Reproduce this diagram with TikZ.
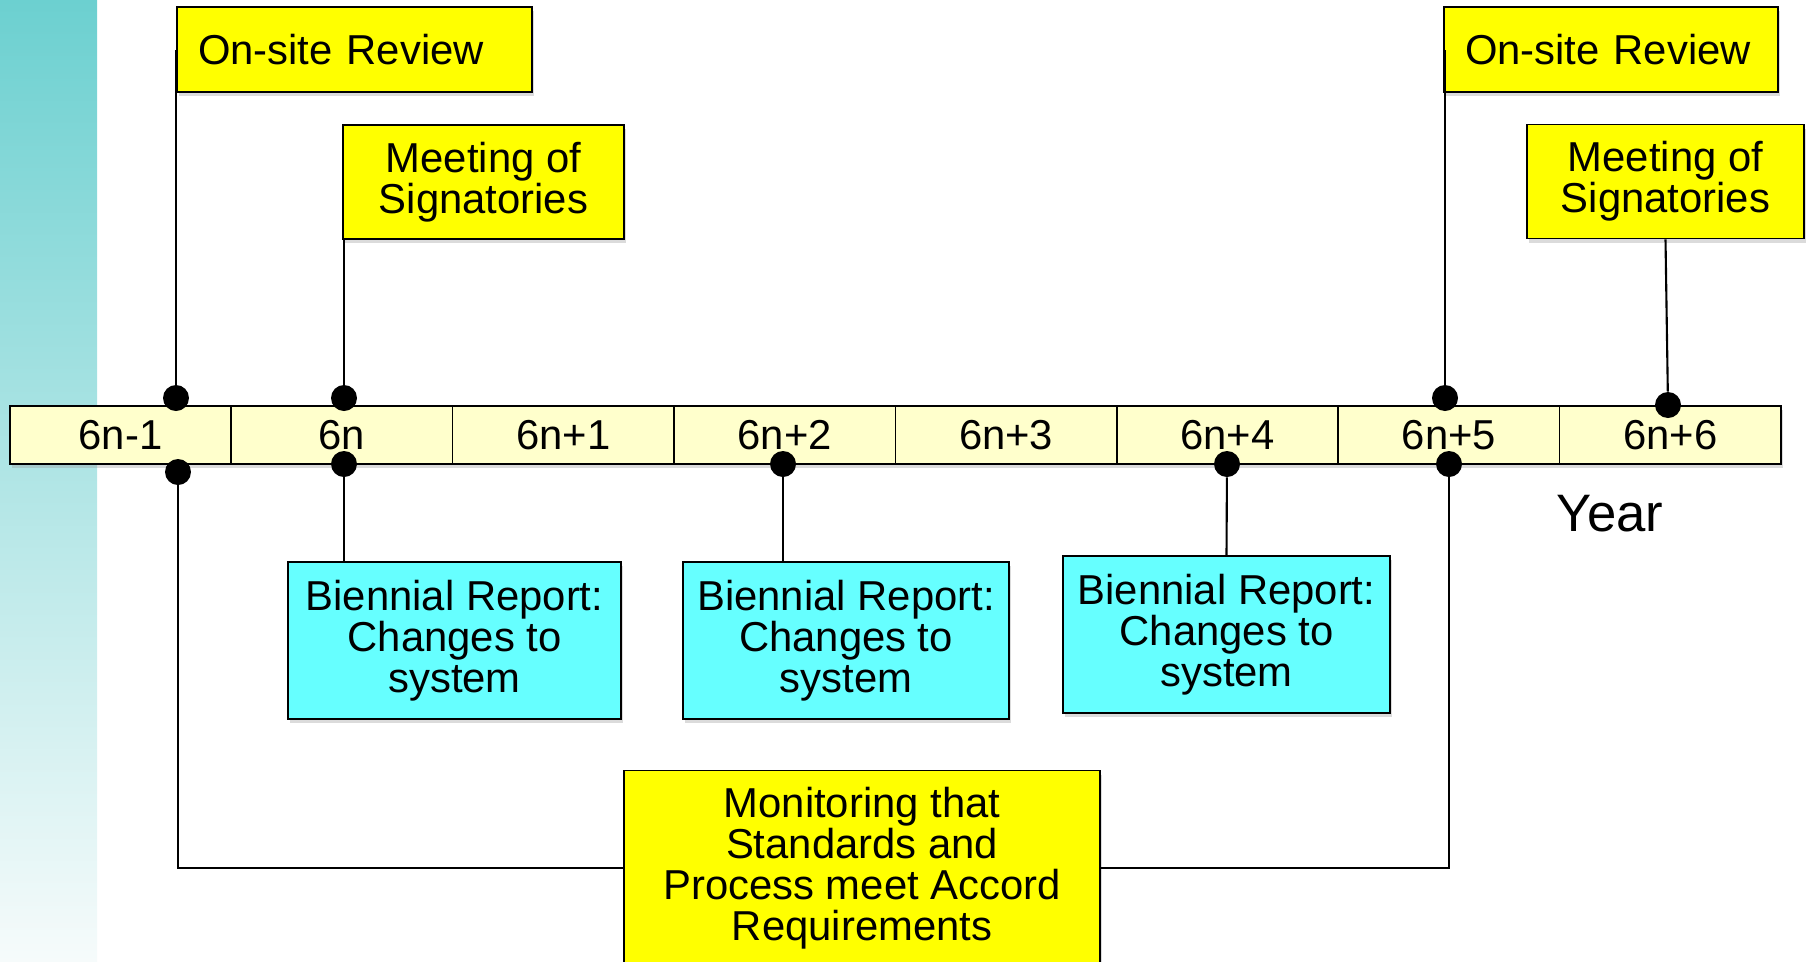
\documentclass[tikz,border=0pt]{standalone}
\usepackage{fontspec}
\setmainfont{Liberation Sans}
\usepackage{tikz}
\usetikzlibrary{positioning,shadows,calc}
\definecolor{revyellow}{RGB}{255,255,0}
\definecolor{revcyan}{RGB}{102,255,255}
\definecolor{yearcell}{RGB}{255,255,204}
\definecolor{sidetop}{RGB}{108,208,208}
\definecolor{sidebot}{RGB}{246,251,251}

\begin{document}
\begin{tikzpicture}[x=0.02cm, y=-0.02cm,
  every node/.style={font=\fontsize{23.8}{23.4}\selectfont},
  boxshadow/.style={drop shadow={shadow xshift=1pt, shadow yshift=-2.5pt, fill=black!40, opacity=0.35}},
  evbox/.style={draw=black, line width=1pt, fill=revyellow, align=center, inner sep=0pt, boxshadow},
  rptbox/.style={draw=black, line width=1pt, fill=revcyan, align=center, inner sep=0pt, minimum height=3.14cm, boxshadow},
  cell/.style={draw=black, line width=0.9pt, fill=yearcell, minimum width=4.428cm, minimum height=1.16cm, inner sep=0pt, boxshadow},
  evdot/.style={circle, fill=black, inner sep=0pt, minimum size=0.52cm},
  link/.style={line width=1.2pt}
]
  \useasboundingbox (0,0) rectangle (1812,961);
  \shade[top color=sidetop, bottom color=sidebot] (0,0) rectangle (97,961);

  % year bar
  \foreach \lab [count=\i from 0] in {6n-1,6n,6n+1,6n+2,6n+3,6n+4,6n+5,6n+6}
    \node[cell] (c\i) at ({120.5+221.4*\i},435) {\lab};
  \node[font=\fontsize{30}{30}\selectfont] (year) at (1610,514) {Year};

  % events above the bar
  \node[evbox, minimum width=7.1cm, minimum height=1.7cm, text width=6.26cm, align=left] (site1) at (354.5,49.5) {On-site Review};
  \node[evbox, minimum width=6.68cm, minimum height=1.7cm, text width=5.84cm, align=left] (site2) at (1611,49.5) {On-site Review};
  \node[evbox, minimum width=5.62cm, minimum height=2.28cm] (meet1) at (483.5,182) {Meeting of\\Signatories};
  \node[evbox, minimum width=5.54cm, minimum height=2.28cm] (meet2) at (1665.5,181.5) {Meeting of\\Signatories};

  % reports below the bar
  \node[rptbox, minimum width=6.66cm] (rpt1) at (454.5,640.5) {Biennial Report:\\Changes to\\system};
  \node[rptbox, minimum width=6.52cm] (rpt2) at (846,640.5) {Biennial Report:\\Changes to\\system};
  \node[rptbox, minimum width=6.54cm] (rpt3) at (1226.5,634.5) {Biennial Report:\\Changes to\\system};
  \node[evbox, minimum width=9.52cm, minimum height=3.9cm] (mon) at (862,868) {Monitoring that\\Standards and\\Process meet Accord\\Requirements};

  % markers
  \node[evdot] (t0) at (176,398) {};
  \node[evdot] (t1) at (344,398) {};
  \node[evdot] (t6) at (1445,398) {};
  \node[evdot] (t7) at (1668,405) {};
  \node[evdot] (b0) at (178,472) {};
  \node[evdot] (b1) at (344,464) {};
  \node[evdot] (b3) at (783,464) {};
  \node[evdot] (b5) at (1227,464) {};
  \node[evdot] (b6) at (1449,464) {};

  \draw[link] (t0) -- (t0 |- site1.west);
  \draw[link] (t1) -- (t1 |- meet1.south);
  \draw[link] (t6) -- (t6 |- site2.west);
  \draw[link] (t7) -- (meet2.south);
  \draw[link] (b1) -- (b1 |- rpt1.north);
  \draw[link] (b3) -- (b3 |- rpt2.north);
  \draw[link] (b5) -- (rpt3.north);
  \draw[link] (b0) |- (mon.west);
  \draw[link] (mon.east) -| (b6);
\end{tikzpicture}
\end{document}
